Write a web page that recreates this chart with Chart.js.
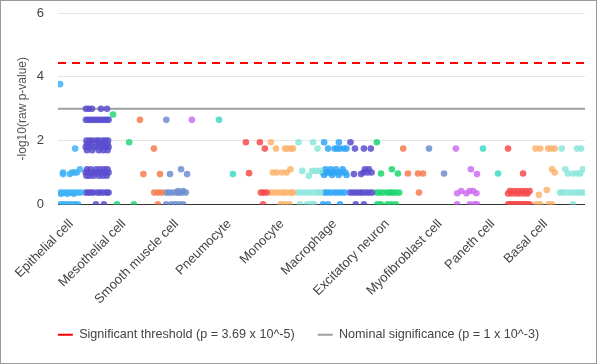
<!DOCTYPE html>
<html>
<head>
<meta charset="utf-8">
<script src="https://cdn.jsdelivr.net/npm/chart.js@4"></script>
<style>
  html, body { margin: 0; padding: 0; background: #fff; }
  #wrap { width: 597px; height: 364px; box-sizing: border-box; border: 1px solid #9a9a9a; }
  canvas { display: block; }
</style>
</head>
<body>
<div id="wrap"><canvas id="chart" width="595" height="362"></canvas></div>
<script>
// labels shown under every other group
const tickLabels = ["Epithelial cell", "Mesothelial cell", "Smooth muscle cell", "Pneumocyte", "Monocyte",
  "Macrophage", "Excitatory neuron", "Myofibroblast cell", "Paneth cell", "Basal cell"];

const groupColors = ["#3fb3f7", "#5a4ecf", "#27d677", "#f77b4d", "#6f8ed0", "#cc6ef2", "#3ddbc4", "#f74b4b", "#fbb46e", "#8ce6dc",
  "#2fa6f7", "#5a4ecf", "#1fd670", "#f77b4d", "#6f8ed0", "#cc6ef2", "#3ddbc4", "#f74b4b", "#fbb46e", "#8ce6dc"];

// per group: [ -log10(p), [position inside the group 0..1, ...] ]
const groupPoints = [
  [[3.77, [0.08]], [1.75, [0.65]], [1.1, [0.83]], [1.0, [0.19, 0.53, 0.62, 0.72]], [0.95, [0.19, 0.45]],
   [0.37, [0.08, 0.19, 0.3, 0.42, 0.53, 0.65, 0.76, 0.87]], [0.33, [0.12, 0.35, 0.6]], [0, [0.08, 0.19, 0.3, 0.42, 0.53, 0.65, 0.76]]],
  [[3.0, [0.06, 0.17, 0.29, 0.63, 0.86]], [2.65, [0.06, 0.15, 0.25, 0.35, 0.45, 0.55, 0.65, 0.75, 0.85, 0.92]],
   [2.0, [0.08, 0.2, 0.3, 0.45, 0.55, 0.7, 0.8, 0.9]], [1.9, [0.1, 0.25, 0.5, 0.6, 0.75, 0.88]],
   [1.8, [0.05, 0.15, 0.35, 0.5, 0.65, 0.8, 0.92]], [1.7, [0.1, 0.3, 0.55, 0.72, 0.88]],
   [1.1, [0.1, 0.25, 0.45, 0.6, 0.75, 0.88]], [1.0, [0.05, 0.15, 0.3, 0.4, 0.5, 0.65, 0.8, 0.92]], [0.9, [0.08, 0.2, 0.35, 0.55, 0.7, 0.85]],
   [0.37, [0.05, 0.15, 0.25, 0.35, 0.5, 0.6, 0.72, 0.85, 0.92]], [0, [0.44, 0.74]]],
  [[2.82, [0.09]], [1.95, [0.7]], [0, [0.24, 0.88]]],
  [[2.65, [0.11]], [1.75, [0.64]], [0.95, [0.24, 0.87]], [0.37, [0.65, 0.8, 0.93]], [0, [0.79]]],
  [[2.65, [0.11]], [1.1, [0.67]], [0.95, [0.25, 0.9]], [0.37, [0.1, 0.22, 0.35, 0.5, 0.6, 0.7, 0.85]], [0.42, [0.55, 0.75]],
   [0, [0.1, 0.3, 0.45, 0.6, 0.75]]],
  [[2.65, [0.08]]],
  [[2.65, [0.11]], [0.95, [0.64]]],
  [[1.95, [0.13, 0.66]], [1.75, [0.85]], [0.98, [0.25]], [0.37, [0.7, 0.8, 0.92]], [0, [0.78]]],
  [[1.95, [0.08]], [1.75, [0.27, 0.61, 0.72, 0.85, 0.92]], [1.1, [0.82]], [1.0, [0.15, 0.3, 0.5, 0.68]],
   [0.37, [0.08, 0.2, 0.35, 0.5, 0.6, 0.72, 0.85, 0.92]], [0, [0.45, 0.6, 0.78]]],
  [[1.95, [0.13, 0.68]], [1.75, [0.85]], [1.05, [0.27, 0.65, 0.8, 0.95]], [0.9, [0.52]],
   [0.37, [0.1, 0.25, 0.4, 0.55, 0.7, 0.85, 0.95]], [0, [0.18, 0.45, 0.6, 0.72]]],
  [[1.95, [0.1, 0.66]], [1.75, [0.25, 0.5, 0.6, 0.7, 0.85, 0.95]], [1.1, [0.15, 0.35, 0.55, 0.8]],
   [1.0, [0.05, 0.2, 0.3, 0.45, 0.6, 0.75, 0.9]], [0.92, [0.1, 0.4, 0.65, 0.95]],
   [0.37, [0.1, 0.22, 0.35, 0.5, 0.62, 0.75, 0.88]], [0, [0.06, 0.25, 0.7]]],
  [[1.95, [0.1]], [1.75, [0.27, 0.61, 0.87]], [1.1, [0.65, 0.8]], [1.0, [0.6, 0.75, 0.9]], [0.95, [0.23, 0.5]],
   [0.37, [0.08, 0.2, 0.32, 0.45, 0.55, 0.68, 0.8, 0.92]], [0, [0.3, 0.61]]],
  [[1.95, [0.1]], [0.97, [0.26, 0.9]], [1.1, [0.67]], [0.37, [0.1, 0.22, 0.35, 0.5, 0.6, 0.7, 0.82, 0.95]],
   [0, [0.12, 0.25, 0.5, 0.65, 0.82]]],
  [[1.75, [0.1]], [0.97, [0.28, 0.66, 0.85]], [0.37, [0.7]]],
  [[1.75, [0.08]], [0.97, [0.65]]],
  [[1.75, [0.1]], [1.1, [0.67]], [0.95, [0.9]], [0.42, [0.3, 0.62, 0.75]], [0.35, [0.15, 0.5, 0.88]],
   [0, [0.15, 0.63, 0.82, 0.9]]],
  [[1.75, [0.13]], [0.97, [0.7]]],
  [[1.75, [0.08]], [0.97, [0.65]], [0.42, [0.15, 0.3, 0.45, 0.6, 0.75, 0.9]],
   [0.34, [0.08, 0.22, 0.38, 0.52, 0.68, 0.82]], [0, [0.08, 0.15, 0.22, 0.3, 0.38, 0.45, 0.52, 0.6, 0.68, 0.75, 0.82, 0.9]]],
  [[1.75, [0.12, 0.3, 0.6, 0.72, 0.85]], [1.1, [0.75]], [1.0, [0.85]], [0.3, [0.25]], [0.45, [0.55]],
   [0, [0.15, 0.3, 0.62, 0.75]]],
  [[1.75, [0.12, 0.7, 0.85]], [1.1, [0.25, 0.92]], [0.97, [0.35, 0.55, 0.7, 0.82]],
   [0.37, [0.05, 0.15, 0.3, 0.45, 0.6, 0.72, 0.85, 0.95]], [0, [0.55]]]
];

const sigThreshold = -Math.log10(3.69e-5);
const nominalThreshold = 3;

const datasets = groupPoints.map((levels, g) => {
  const pts = [];
  levels.forEach(([y, xs]) => xs.forEach(j => pts.push({ x: g + j, y: y })));
  return {
    type: "scatter",
    data: pts,
    backgroundColor: groupColors[g] + "d9",
    borderWidth: 0,
    pointRadius: 3.3,
    pointHoverRadius: 3.3,
  };
});

datasets.push({
  type: "line",
  label: "Significant threshold (p = 3.69 x 10^-5)",
  data: [{ x: 0, y: sigThreshold }, { x: groupPoints.length, y: sigThreshold }],
  borderColor: "#ff0000",
  backgroundColor: "#ff0000",
  borderWidth: 2,
  borderDash: [8, 6],
  pointRadius: 0,
});
datasets.push({
  type: "line",
  label: "Nominal significance (p = 1 x 10^-3)",
  data: [{ x: 0, y: nominalThreshold }, { x: groupPoints.length, y: nominalThreshold }],
  borderColor: "#9e9e9e",
  backgroundColor: "#9e9e9e",
  borderWidth: 2,
  pointRadius: 0,
});

Chart.defaults.font.family = "'Liberation Sans', Arial, sans-serif";

new Chart(document.getElementById("chart"), {
  type: "scatter",
  data: { datasets },
  options: {
    responsive: false,
    animation: false,
    events: [],
    layout: { padding: { left: 0, right: 0, top: 12, bottom: 12 } },
    plugins: {
      tooltip: { enabled: false },
      legend: {
        position: "bottom",
        labels: {
          filter: item => item.datasetIndex >= groupPoints.length,
          usePointStyle: true,
          pointStyle: "line",
          pointStyleWidth: 15,
          padding: 23,
          color: "#444",
          font: { size: 12.6 },
        },
      },
    },
    scales: {
      x: {
        type: "linear",
        min: 0,
        max: groupPoints.length,
        grid: { display: false },
        border: { display: false },
        afterBuildTicks: s => { s.ticks = tickLabels.map((_, i) => ({ value: i * 2 + 0.5 })); },
        afterFit: s => { s.height = 101; s.paddingRight = 11; },
        ticks: {
          autoSkip: false,
          minRotation: 45,
          maxRotation: 45,
          padding: 4,
          color: "#444",
          font: { size: 13 },
          callback: v => tickLabels[Math.round((v - 0.5) / 2)],
        },
      },
      y: {
        min: 0,
        max: 6,
        afterFit: s => { s.width = 57; s.paddingTop = 8; s.paddingBottom = 8; },
        grid: {
          drawTicks: false,
          color: c => (c.tick.value === 0 ? "#333" : "#e4e4e4"),
        },
        border: { display: false },
        ticks: { stepSize: 2, padding: 14, color: "#444", font: { size: 13 } },
        title: {
          display: true,
          text: "-log10(raw p-value)",
          color: "#555",
          font: { size: 12 },
          padding: { top: 14, bottom: 0 },
        },
      },
    },
  },
});
</script>
</body>
</html>
